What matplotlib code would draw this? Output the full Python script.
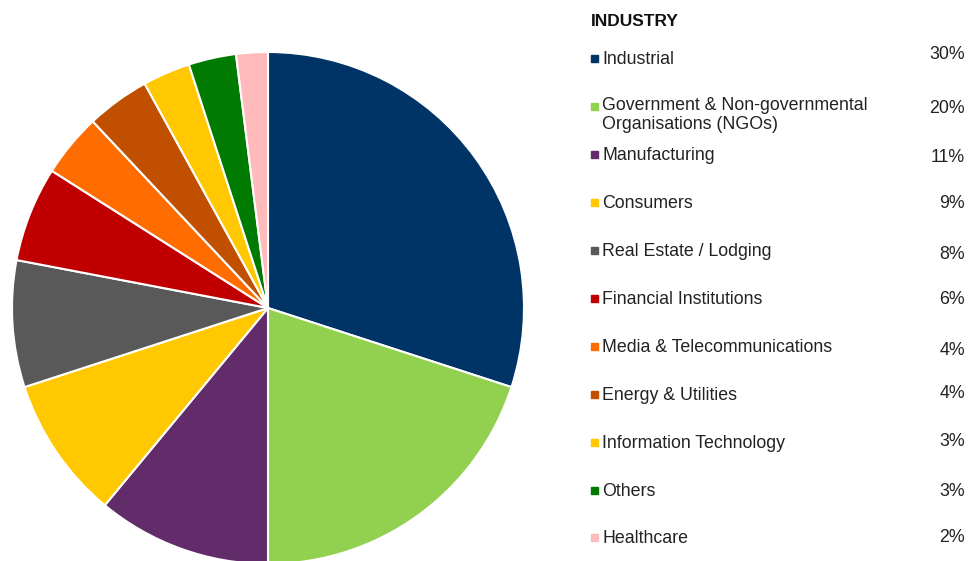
import matplotlib.pyplot as plt
from matplotlib.patches import Rectangle

# Industry split (percent), clockwise from 12 o'clock.
industries = [
    "Industrial",
    "Government & Non-governmental\nOrganisations (NGOs)",
    "Manufacturing",
    "Consumers",
    "Real Estate / Lodging",
    "Financial Institutions",
    "Media & Telecommunications",
    "Energy & Utilities",
    "Information Technology",
    "Others",
    "Healthcare",
]
shares = [30, 20, 11, 9, 8, 6, 4, 4, 3, 3, 2]
colors = ["#003366", "#92D050", "#612C69", "#FFC800", "#595959", "#C00000",
          "#FF6D00", "#C05000", "#FFC800", "#007A00", "#FFBBBB"]

W, H = 969, 561
plt.rcParams['font.family'] = ['Liberation Sans', 'DejaVu Sans']


def fx(px):
    return px / W


def fy(py):
    # Pixel rows from the top -> figure fraction.
    return 1 - py / H


fig = plt.figure(figsize=(W / 100, H / 100), dpi=100)

# Pie axes: centre (268, 308) px, radius 256 px.
cx, cy, r = 268, 308, 256
ax = fig.add_axes([fx(cx - r), fy(cy + r), 2 * r / W, 2 * r / H])
ax.pie(shares, colors=colors, startangle=90, counterclock=False,
       radius=1, wedgeprops=dict(edgecolor="white", linewidth=1.5))
ax.set_xlim(-1, 1)
ax.set_ylim(-1, 1)
ax.set_aspect("auto")
ax.axis("off")

# Legend drawn by hand.
fig.text(fx(591), fy(22), "INDUSTRY", fontsize=12.5, fontweight="bold",
         color="#111111", va="center", ha="left")

row_y = [58, 106, 154, 202, 250, 298, 346, 394, 442, 490, 537]
pct_y = [53, 107, 156, 202, 253, 298, 349, 392, 440, 490, 536]
fs = 12.8
for name, share, color, ty, py in zip(industries, shares, colors, row_y, pct_y):
    fig.patches.append(Rectangle((fx(591), fy(ty + 3.5)), 7 / W, 7 / H,
                                 transform=fig.transFigure, color=color))
    if "\n" in name:
        fig.text(fx(602), fy(ty - 9), name, fontsize=fs, color="#222222",
                 va="top", ha="left", linespacing=1.15)
    else:
        fig.text(fx(602), fy(ty + 1.5), name, fontsize=fs, color="#222222",
                 va="center", ha="left")
    fig.text(fx(965), fy(py + 1.5), f"{share}%", fontsize=fs, color="#222222",
             va="center", ha="right")

fig.savefig("out.png", dpi=100)
